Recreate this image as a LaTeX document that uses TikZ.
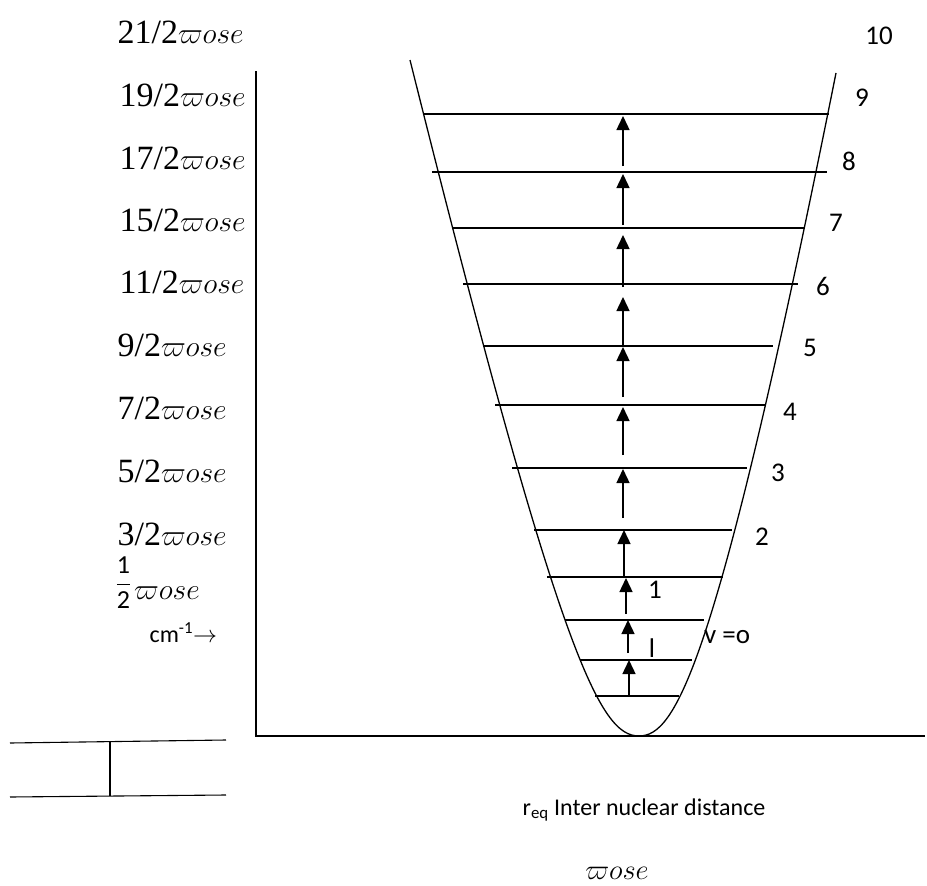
\RequirePackage{fix-cm}
\documentclass[tikz,border=0pt]{standalone}
\usepackage{amsmath}
\usepackage{fontspec}
\setmainfont{Liberation Serif}
\newfontfamily\carl{Carlito}
\usetikzlibrary{arrows.meta}
\newcommand\wose{{\fontsize{29.5}{34}\selectfont$\varpi ose$}}
\begin{document}
\begin{tikzpicture}[x=1pt,y=-1pt,line width=1.3pt,
  up/.style={-{Triangle[length=14pt,width=13pt]},line width=1.4pt},
  elab/.style={font=\fontsize{34}{40}\selectfont,anchor=base west,inner sep=0pt},
  num/.style={font=\carl\fontsize{27}{32}\selectfont,inner sep=0pt},
  clab/.style={font=\carl\fontsize{24}{28}\selectfont,inner sep=0pt}]
\useasboundingbox (0,0) rectangle (927,886);
% axes
\coordinate (ytop) at (256,71);
\coordinate (org) at (256,736);
\coordinate (xend) at (925,736);
\draw (ytop) -- (org) -- (xend);
% potential curve
\coordinate (cl) at (410,60);
\coordinate (cb) at (639,736);
\coordinate (cr) at (836,73);
\draw (cl) .. controls (560,660) and (600,736) .. (cb)
           .. controls (675,736) and (716,673) .. (cr);
% levels
\foreach \y/\a/\b [count=\i] in {114/423/829,172/432/827,228/453/804,284/463/798,
  346/483/773,405/495/766,468/512/747,530/534/732,577/547/723,620/565/704,
  660/580/692,696/595/679}{
  \coordinate (L\i) at (\a,\y);
  \coordinate (R\i) at (\b,\y);
  \draw (L\i) -- (R\i);
}
% transitions
\foreach \x/\s/\t [count=\i] in {629/696/660,628/653/620,626/614/578,624/577/530,
  623/518/469,623/455/407,623/397/347,623/346/297,623/287/235,623/225/174,623/166/116}{
  \coordinate (a\i) at (\x,\s);
  \coordinate (b\i) at (\x,\t);
  \draw[up] (a\i) -- (b\i);
}
% left energy labels
\node[elab] (e21) at (117,43.5) {21/2\wose};
\node[elab] (e19) at (119,106.5) {19/2\wose};
\node[elab] (e17) at (119,169.5) {17/2\wose};
\node[elab] (e15) at (119,231.5) {15/2\wose};
\node[elab] (e11) at (119,293.5) {11/2\wose};
\node[elab] (e9) at (117,356.5) {9/2\wose};
\node[elab] (e7) at (117,419.5) {7/2\wose};
\node[elab] (e5) at (117,482.5) {5/2\wose};
\node[elab] (e3) at (117,545.5) {3/2\wose};
\node[anchor=base west,inner sep=0pt] (e1) at (115,591)
  {\carl\fontsize{26}{30}\selectfont$\dfrac{\text{1}}{\text{2}}$\hspace{3pt}\raisebox{-8pt}{\wose}};
\node[clab,anchor=base west] (cm) at (149,642) {cm\textsuperscript{-1}$\rightarrow$};
% quantum numbers
\node[num] (n10) at (879,36) {10};
\node[num] (n9) at (862,98) {9};
\node[num] (n8) at (849,161) {8};
\node[num] (n7) at (836,223) {7};
\node[num] (n6) at (823,286) {6};
\node[num] (n5) at (810,348) {5};
\node[num] (n4) at (790,412) {4};
\node[num] (n3) at (778,473) {3};
\node[num] (n2) at (762,537) {2};
\node[num] (n1) at (655,590) {1};
\node[num] (nl) at (652,648) {l};
\node[num] (v0) at (727,637) {v =o};
% bottom labels
\node[clab,anchor=base west] (req) at (522,815) {r\textsubscript{eq} Inter nuclear distance};
\node[inner sep=0pt] (wb) at (617,873) {\fontsize{28.5}{34}\selectfont$\varpi ose$};
% bracket
\coordinate (t1) at (10,743);
\coordinate (t2) at (226,740);
\coordinate (u1) at (10,797);
\coordinate (u2) at (226,795);
\coordinate (m1) at (110,742);
\coordinate (m2) at (110,796);
\draw[line width=1.1pt] (t1) -- (t2);
\draw[line width=1.1pt] (u1) -- (u2);
\draw[line width=1.1pt] (m1) -- (m2);
\end{tikzpicture}
\end{document}
